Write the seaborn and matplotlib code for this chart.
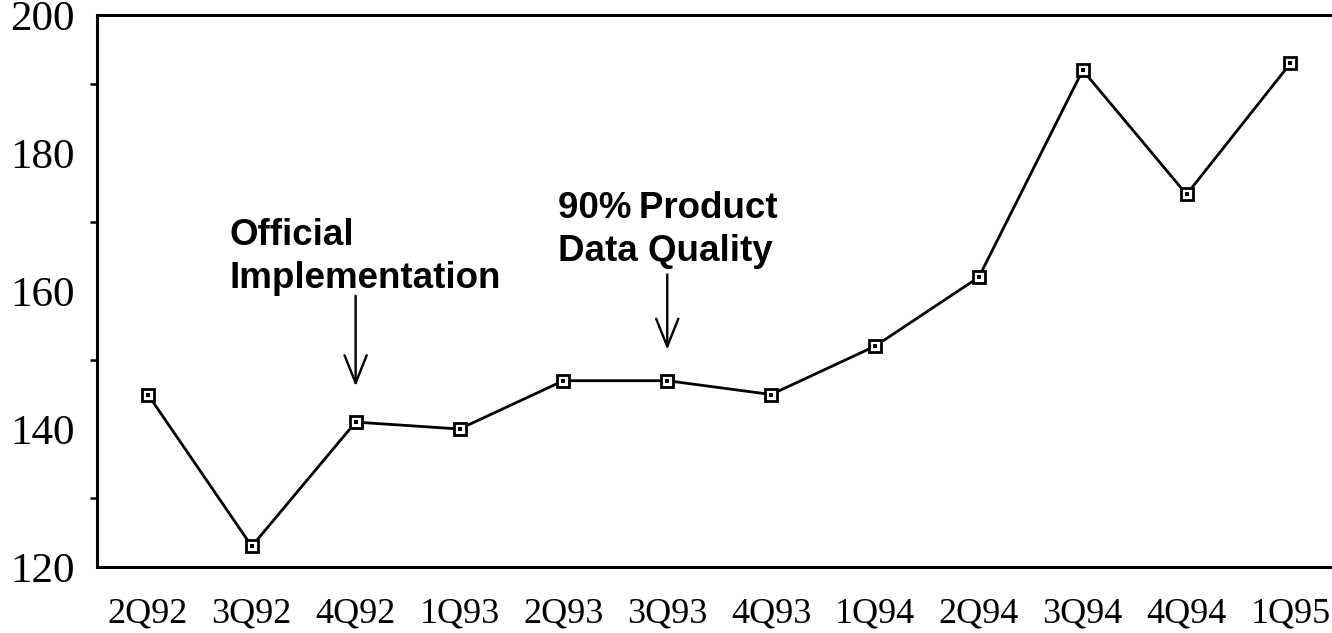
import matplotlib
matplotlib.use("Agg")
import matplotlib.pyplot as plt
from matplotlib.ticker import MultipleLocator
import seaborn as sns
import pandas as pd

quarters = ["2Q92", "3Q92", "4Q92", "1Q93", "2Q93", "3Q93", "4Q93",
            "1Q94", "2Q94", "3Q94", "4Q94", "1Q95"]
values = [145, 123, 141, 140, 147, 147, 145, 152, 162, 192, 174, 193]

notes = ["Official\nImplementation", "90%\u2009Product\nData Quality"]
note_quarters = ["4Q92", "3Q93"]

sns.set_theme(style="white")
plt.rcParams["font.family"] = ["Liberation Serif", "DejaVu Serif"]

df = pd.DataFrame({"quarter": quarters, "value": values})
df["pos"] = range(len(quarters))

fig = plt.figure(figsize=(13.32, 6.33), dpi=100)
ax = fig.add_axes([97 / 1332, 66 / 633, 1235 / 1332, 552 / 633])

sns.lineplot(data=df, x="pos", y="value", ax=ax, color="black", lw=2.0,
             marker="s", markersize=9, markerfacecolor="white",
             markeredgecolor="black", markeredgewidth=2.0, zorder=3)
sns.scatterplot(data=df, x="pos", y="value", ax=ax, color="black",
                marker="s", s=6, linewidth=0, zorder=4)

ax.set_xlim(-0.49, 11.40)
ax.set_ylim(120, 200)
ax.set_xticks(df["pos"])
ax.set_xticklabels(quarters)
ax.yaxis.set_major_locator(MultipleLocator(20))
ax.yaxis.set_minor_locator(MultipleLocator(10))
ax.set_xlabel("")
ax.set_ylabel("")

for side in ["left", "bottom", "top"]:
    ax.spines[side].set_visible(True)
    ax.spines[side].set_color("black")
    ax.spines[side].set_linewidth(2.2)
ax.spines["right"].set_visible(False)

ax.tick_params(axis="both", which="major", direction="out", length=8,
               width=1.8, color="black", labelcolor="black")
ax.tick_params(axis="x", which="major", pad=14, labelsize=26)
ax.tick_params(axis="y", which="major", pad=8, labelsize=31)
ax.tick_params(axis="y", which="minor", direction="out", length=5,
               width=1.8, color="black", left=True)

# annotation labels with downward arrows
label_pos = [(0.79, 170.6), (3.95, 174.5)]
arrow_span = [(159.3, 146.2), (162.4, 151.5)]
for text, q, (tx, ty), (y0, y1) in zip(notes, note_quarters, label_pos, arrow_span):
    xq = quarters.index(q)
    ax.text(tx, ty, text, ha="left", va="top", fontsize=26.5,
            fontweight="bold", family=["Liberation Sans", "DejaVu Sans"],
            linespacing=1.3, color="black")
    ax.annotate("", xy=(xq, y1), xytext=(xq, y0),
                arrowprops=dict(arrowstyle="->,head_length=1.0,head_width=0.4",
                                lw=1.7, color="black", mutation_scale=20,
                                shrinkA=0, shrinkB=0))

fig.savefig("out.png", dpi=100)
